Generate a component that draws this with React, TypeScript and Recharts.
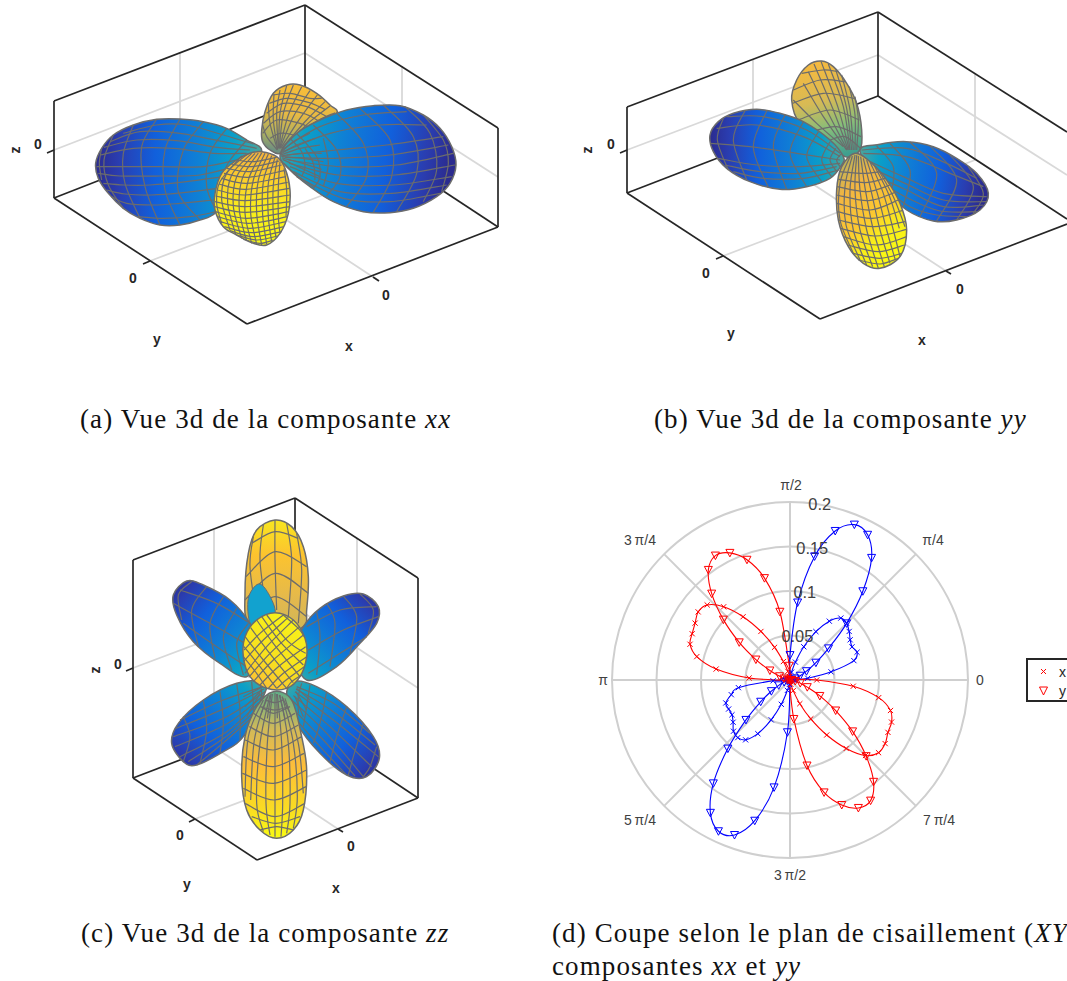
import React from 'react';
import {
  ComposedChart, Scatter, XAxis, YAxis, RadarChart, Radar, PolarGrid, PolarAngleAxis, PolarRadiusAxis, Legend,
} from 'recharts';

// ---------- text ----------
const captionA = 'Vue 3d de la composante ';
const captionD1 = '(d) Coupe selon le plan de cisaillement (';
const legendLabels = ['x', 'y'];
const BLACK = '#262626';
const GRIDC = '#d9d9d9';
const MESH = '#6c6c6c';

// ---------- panel (a): page coordinates ----------
const aBox = [
  [54, 101, 305, 5], [305, 5, 498, 128], [54, 101, 54, 198], [305, 5, 305, 100], [498, 128, 498, 227],
  [54, 198, 247, 324], [247, 324, 498, 227], [54, 198, 305, 100], [305, 100, 498, 227],
  [54, 150, 47, 153], [150, 261, 143, 264], [373, 277, 379, 281],
];
const aGrid = [
  [180, 53, 180, 150], [54, 150, 305, 53], [402, 66, 402, 165], [305, 53, 498, 177], [150, 261, 402, 165], [180, 150, 373, 277],
];
const aLabels = [
  { x: 38, y: 144, t: '0' }, { x: 15, y: 150, t: 'z', r: 1 }, { x: 133, y: 278, t: '0' }, { x: 157, y: 339, t: 'y' },
  { x: 386, y: 295, t: '0' }, { x: 349, y: 346, t: 'x' },
];
// lobes of (a), measured in units of a 3x crop at origin 80,70
const aBack = [548,215,545,180,555,125,580,70,620,45,660,45,710,70,750,105,770,130,700,170,640,215,600,250,570,240];
const aBackMesh = [
  [592,240,560,200,548,165],[592,238,570,160,565,100],[595,235,590,130,600,60],[598,235,610,130,640,45],[600,235,640,140,690,62],[605,235,680,150,735,95],[610,235,700,160,765,128],
  [593,238,580,150,582,72],[596,235,600,130,620,47],[599,235,625,135,665,50],[602,235,660,145,712,75],[607,235,690,155,750,108],
  [548,190,590,150,660,160,690,175],[560,130,610,100,680,110,740,140],[580,75,630,70,690,85,725,85],[570,205,600,190,640,195,650,205],
  [550,160,600,125,670,130,720,155],[568,100,620,85,685,97,735,118],
];
const aLeft = [545,245,500,210,440,175,370,155,300,147,230,148,160,165,100,195,65,235,47,280,55,325,85,370,130,415,180,445,240,465,300,465,360,450,410,425,480,330];
const aLeftMesh = [
  [100,195,72,270,85,345,130,415],[160,165,130,250,135,340,180,445],[230,148,185,230,195,350,240,465],[300,147,255,240,255,360,300,465],
  [370,155,310,240,295,365,360,450],[440,175,390,250,380,350,410,425],[500,210,450,270,430,310],[65,235,58,280,65,330],
  [530,235,430,215,300,190,180,185,90,215],[500,250,400,250,280,235,160,235,60,255],[470,270,370,290,250,290,130,290,50,290],
  [430,320,320,335,210,345,130,345,70,340],[400,390,300,400,220,405,140,400,95,380],[410,425,330,440,250,445,175,440],
  [520,222,430,195,320,165,230,165,130,190],[480,285,360,315,240,318,120,318,55,310],[415,355,310,368,215,375,135,372,80,360],[510,240,410,232,290,212,170,210,72,232],
];
const aRight = [600,255,650,190,720,150,800,120,880,107,960,107,1030,135,1080,175,1115,230,1128,285,1110,340,1070,380,1000,415,930,428,850,425,760,395,690,350,630,300];
const aRightMesh = [
  [650,190,710,260,720,320,700,355],[700,165,770,240,780,320,740,378],[770,130,850,220,860,320,800,410],[840,115,930,210,935,320,880,427],
  [910,105,1000,200,1010,310,950,425],[975,110,1050,190,1070,300,1030,395],[1030,135,1090,210,1105,280,1085,365],
  [610,245,750,190,900,165,1040,165],[620,255,770,240,920,225,1090,200],[625,270,780,290,950,285,1120,250],[630,290,770,340,940,345,1115,320],
  [650,320,790,385,930,395,1080,370],[605,240,720,170,850,135,980,125],[615,262,760,265,930,255,1105,225],[628,280,775,315,945,315,1125,285],[640,305,780,365,935,370,1100,345],
  [675,235,700,280,705,330],[730,205,745,280,730,350],[630,205,665,245,675,290,665,320],
  [600,250,640,215,690,190],[602,255,660,235,720,225],[605,260,670,265,730,275],[608,268,665,295,720,320],[612,280,650,315,700,350],[601,252,650,225,705,205],[603,258,665,250,725,250],[606,264,668,280,725,298],
];
const aFront = [545,245,590,260,615,295,630,360,625,430,600,490,560,525,520,520,470,495,430,470,405,420,405,370,425,310,470,270,510,250];
const aFrontMesh = [
  [505,250,440,310,425,390,450,480],[525,250,470,320,460,410,485,505],[545,248,505,330,495,430,515,520],[565,252,535,330,530,430,545,525],
  [585,262,565,340,565,440,575,515],[600,275,595,350,595,440,600,490],[612,295,620,360,618,440],[485,258,420,335,410,400,425,460],
  [515,250,455,315,443,400,467,493],[535,249,487,325,478,420,500,513],[555,250,520,330,512,430,530,523],[575,257,550,335,548,435,560,522],[592,268,580,345,580,440,588,503],
  [470,270,520,275,590,262],[440,295,510,305,605,285],[425,325,500,340,618,320],[412,360,495,375,628,355],[405,395,495,410,630,395],[405,425,500,445,627,425],
  [420,455,510,475,618,455],[450,482,520,500,605,485],[490,508,540,520,580,510],[454,282,515,290,598,273],[432,310,505,322,612,302],[417,342,497,358,623,337],[407,378,495,392,630,375],[404,410,497,427,629,410],[412,440,505,460,623,440],[433,470,515,488,612,470],[470,495,530,510,593,498],
];

// ---------- panel (b) ----------
const bBox = [
  [627, 107, 878, 12], [878, 12, 1067, 132], [627, 107, 627, 193], [878, 12, 878, 96],
  [627, 193, 820, 319], [820, 319, 1067, 224], [627, 193, 878, 96], [878, 96, 1067, 219],
  [627, 150, 620, 153], [723, 256, 716, 259], [946, 271, 951, 274],
];
const bGrid = [
  [753, 60, 753, 145], [627, 150, 878, 55], [975, 73, 975, 160], [878, 55, 1067, 175], [723, 256, 975, 160], [753, 145, 946, 271],
];
const bLabels = [
  { x: 611, y: 144, t: '0' }, { x: 587, y: 150, t: 'z', r: 1 }, { x: 706, y: 273, t: '0' }, { x: 731, y: 333, t: 'y' },
  { x: 960, y: 289, t: '0' }, { x: 922, y: 340, t: 'x' },
];
const bBack = [510,300,515,240,500,160,470,100,430,50,395,33,355,45,320,90,305,150,330,220,400,260,465,320];
const bBackMesh = [
  [470,300,400,200,340,100],[475,300,430,180,372,42],[480,300,460,170,415,42],[490,300,480,180,455,75],[500,300,505,210,495,140],[460,290,380,220,310,150],
  [472,300,415,190,355,65],[478,300,445,175,393,34],[485,300,470,175,437,58],[495,300,495,195,478,110],
  [310,120,390,90,465,95],[308,160,400,130,492,145],[325,210,420,180,508,210],[365,245,440,230,513,260],[420,270,465,260,512,295],[335,70,400,60,445,65],
];
const bLeft = [460,320,420,270,340,215,270,190,200,178,130,190,85,215,60,255,70,305,110,355,180,395,270,418,350,410,420,385,455,345];
const bLeftMesh = [
  [100,205,82,270,115,360],[165,182,130,270,170,390],[230,183,190,290,235,412],[285,195,250,290,290,418],[340,215,300,310,350,410],[385,245,350,320,395,395],[420,275,395,330,425,380],
  [450,320,340,260,200,225,80,235],[450,330,320,310,180,290,62,280],[450,340,330,350,200,345,85,325],[445,360,340,385,220,385,130,365],
  [450,310,350,240,220,200,110,200],[440,350,330,370,210,365,105,345],
  [437,295,420,330,440,365],[455,310,440,330,450,350],
];
const bRight = [510,305,570,283,650,275,730,290,800,325,860,370,895,430,870,480,800,510,730,513,650,480,590,420];
const bRightMesh = [
  [600,280,660,360,640,470],[660,276,740,370,690,500],[720,288,800,390,740,513],[780,315,850,410,800,510],[835,350,880,430,850,490],[560,288,610,350,605,425],
  [520,310,650,320,780,370,880,410],[530,330,640,380,760,430,890,440],[560,380,650,420,760,470,880,465],[590,420,660,470,740,495,830,500],
  [515,300,650,295,770,340,860,385],[545,355,645,400,760,450,890,455],[575,400,655,445,750,483,860,485],
];
const bFront = [495,310,540,335,590,390,630,460,650,540,630,620,570,655,520,640,475,590,445,510,440,420,455,350];
const bFrontMesh = [
  [480,320,450,400,450,510,490,610],[495,315,480,420,490,540,530,645],[505,318,510,420,530,540,565,655],[520,325,545,430,570,540,600,640],[540,335,580,430,610,540,630,620],[565,360,610,440,645,530],
  [487,318,465,410,468,525,510,630],[500,316,495,420,510,540,548,650],[512,320,527,425,550,540,583,650],[530,330,562,430,590,540,616,630],[552,345,597,435,628,535],
  [450,365,520,370,570,365],[442,410,530,425,600,405],[440,460,540,480,625,450],[445,510,550,530,645,515],[460,560,560,585,650,560],[490,610,570,625,635,610],
  [445,388,525,398,585,385],[440,435,535,452,613,428],[442,485,545,505,636,482],[452,535,555,558,650,538],[473,585,565,605,643,585],[505,630,570,642,625,625],
];

// ---------- panel (c) ----------
const cBox = [
  [133, 560, 295, 498], [295, 498, 418, 578], [133, 560, 133, 778], [295, 498, 295, 716], [418, 578, 418, 798],
  [133, 778, 257, 860], [257, 860, 418, 798], [133, 778, 295, 716], [295, 716, 418, 798],
  [133, 668, 126, 671], [195, 819, 189, 822], [338, 829, 343, 832],
];
const cGrid = [
  [214, 530, 214, 747], [133, 668, 295, 607], [357, 538, 357, 758], [295, 607, 418, 688], [195, 819, 357, 758], [214, 747, 338, 829],
];
const cLabels = [
  { x: 118, y: 664, t: '0' }, { x: 95, y: 670, t: 'z', r: 1 }, { x: 180, y: 835, t: '0' }, { x: 187, y: 884, t: 'y' },
  { x: 351, y: 846, t: '0' }, { x: 336, y: 888, t: 'x' },
];
const cTop = [345,30,395,50,430,110,445,200,440,300,430,350,345,380,265,340,255,250,265,130,290,60];
const cTopMesh = [
  [310,45,300,150,320,310],[345,30,345,150,350,300],[380,40,395,150,385,320],[410,70,425,180,415,340],[280,80,270,170,290,320],
  [275,100,345,65,415,85],[258,200,345,125,440,170],[255,270,345,190,445,250],[270,325,345,260,440,320],
];
const cPatch = [265,265,295,222,325,250,345,310,300,345,270,340];
const cTL = [270,340,210,270,130,225,80,213,40,255,50,315,100,395,180,460,260,500,300,420];
const cTLMesh = [
  [95,215,55,255,65,330],[140,230,95,300,115,410],[190,260,150,340,165,445],[230,295,190,380,215,480],[265,340,230,400,250,495],
  [270,340,170,280,60,240],[255,400,150,340,40,280],[260,470,170,410,70,340],
];
const cTR = [430,350,480,295,550,258,610,252,655,290,650,340,600,400,530,470,440,510,400,420];
const cTRMesh = [
  [600,252,640,300,625,370],[550,258,590,320,570,430],[500,280,525,340,510,470],[470,305,480,380,470,495],
  [440,350,540,300,650,290],[445,420,550,360,655,320],[445,490,540,430,620,380],
];
const cBL = [315,515,230,520,130,570,55,640,35,700,70,755,110,765,190,725,250,680,310,560];
const cBLMesh = [
  [70,620,90,680,70,755],[130,570,140,660,120,760],[180,545,190,640,180,730],[230,520,240,600,240,690],[275,515,280,580,280,630],[300,518,305,550,300,575],
  [310,530,190,570,60,630],[315,545,200,620,40,680],[310,565,200,665,60,740],[290,610,200,690,110,765],[312,537,195,595,48,655],[312,555,200,642,45,710],[300,590,200,678,85,755],
  [300,535,250,560],[305,540,255,590],[300,550,260,620],
];
const cBR = [400,515,470,530,560,590,640,680,658,745,620,800,560,795,480,730,410,640,380,560];
const cBRMesh = [
  [450,525,440,590,430,650],[500,545,480,640,460,700],[560,590,530,680,510,755],[610,640,580,740,565,795],[650,710,630,770,610,800],[425,520,415,560,415,610],
  [410,530,520,580,630,670],[405,545,520,630,655,740],[395,570,500,670,610,800],[400,620,480,710,560,795],[408,537,520,605,645,705],[400,557,510,650,635,770],[397,595,490,690,585,798],
  [410,535,450,570],[408,545,440,600],[405,560,430,620],
];
const cBottom = [340,545,395,570,425,680,440,780,430,900,400,960,350,985,300,960,260,900,245,800,255,680,290,590];
const cBottomMesh = [
  [330,555,300,700,290,880,310,965],[345,550,345,700,345,980],[360,555,385,700,390,880,380,970],[375,565,415,700,430,850],[310,570,265,680,255,860],
  [337,552,322,700,318,880,330,975],[352,552,365,700,368,880,363,980],[367,560,400,700,412,860,400,955],[320,562,283,690,272,870],
  [280,610,340,640,405,610],[255,690,340,720,425,680],[247,790,340,820,440,780],[255,880,345,920,435,880],[300,960,350,950,400,960],[268,650,340,680,415,645],[250,740,340,770,432,730],[250,835,343,870,438,830],[275,920,347,940,420,920],
  [305,590,340,610,390,590],[300,590,345,600,385,590],[315,570,345,578,370,570],[325,555,300,620],[333,552,322,625],[350,552,352,625],[358,555,375,625],[366,560,395,620],
];
const cBall = [345,308,400,330,435,385,440,440,420,500,380,535,320,535,270,500,250,440,255,380,290,330];
const cBallMesh = [
  [290,330,340,400,420,500],[320,315,385,395,437,430],[255,380,310,450,380,535],[250,440,290,490,320,535],[370,315,415,355,433,380],[272,353,325,425,400,518],[305,320,362,397,430,465],[252,410,300,470,350,535],
  [400,330,320,410,255,490],[370,315,300,370,252,420],[430,375,340,450,280,515],[440,440,370,490,325,535],[425,495,395,515,380,535],[416,352,330,430,266,502],[385,322,310,390,250,455],[437,410,355,470,300,525],[433,470,385,505,350,535],
];

// ---------- panel (d): r(theta), theta = k * 360/128 ----------
const angleCount = 128;
const yyBlueQ1 = { k0: 0, values: [0, 0, 0.002, 0.006, 0.0125, 0.021, 0.035, 0.056, 0.09, 0.129, 0.165, 0.185, 0.189, 0.175, 0.1416, 0.0875, 0.028] };
const yyBlueQ3 = { k0: 65, values: [0, 0.001, 0.003, 0.007, 0.014, 0.0244, 0.041, 0.0668, 0.104, 0.1446, 0.174, 0.188, 0.185, 0.163, 0.122, 0.0588] };
const yyRedQ2 = { k0: 33, values: [0.016, 0.0775, 0.118, 0.1435, 0.158, 0.163, 0.154, 0.131, 0.101, 0.071, 0.0447, 0.025, 0.0125, 0.007, 0.003, 0.001] };
const yyRedQ4 = { k0: 98, values: [0.044, 0.098, 0.132, 0.152, 0.163, 0.163, 0.148, 0.121, 0.091, 0.0617, 0.038, 0.021, 0.012, 0.006, 0.002] };
const xxBlueQ1 = { k0: 0, values: [0.006, 0.02, 0.047, 0.075, 0.0815, 0.079, 0.0813, 0.086, 0.09, 0.09, 0.0795, 0.0617, 0.0404, 0.021, 0.009, 0.003, 0] };
const xxBlueQ3 = { k0: 65, values: [0.019, 0.0586, 0.068, 0.0766, 0.0763, 0.076, 0.0796, 0.0857, 0.0874, 0.0837, 0.0703, 0.0495, 0.029, 0.012, 0.005, 0.001] };
const xxRedQ2 = { k0: 33, values: [0.001, 0.004, 0.01, 0.022, 0.0406, 0.0636, 0.0885, 0.111, 0.1256, 0.1285, 0.1243, 0.1216, 0.1193, 0.108, 0.0839, 0.046] };
const xxRedQ4 = { k0: 98, values: [0.001, 0.005, 0.0125, 0.0288, 0.0495, 0.0743, 0.0995, 0.12, 0.1287, 0.1286, 0.1248, 0.1235, 0.118, 0.1016, 0.0714] };
const xxRedStart = { k0: 0, values: [0.03, 0.008, 0.002] };
const radiusTicks = [0, 0.05, 0.1, 0.15, 0.2];
const polarAngles = [0, 45, 90, 135, 180, 225, 270, 315];
const angleLabels: Record<number, string> = {
  0: '0', 16: '\u03c0/4', 32: '\u03c0/2', 48: '3\u2009\u03c0/4', 64: '\u03c0', 80: '5\u2009\u03c0/4', 96: '3\u2009\u03c0/2', 112: '7\u2009\u03c0/4',
};
const angleShift: Record<number, number[]> = {
  0: [4, 0], 16: [11.5, -8.5], 32: [1, -9], 48: [-18.5, -8.5], 64: [-1, 0], 80: [-18.5, 8.5], 96: [0, 9], 112: [17.5, 8.5],
};

// A counter-clockwise radar draws a row one step ahead of its category, and its tick one step behind.
const polarRows = Array.from({ length: angleCount }, (_, r) => {
  const k = (r + 1) % angleCount;
  const row: Record<string, number | null> = { r };
  const put = (name: string, lobes: { k0: number; values: number[] }[]) => {
    row[name] = null;
    lobes.forEach((l) => {
      const j = (k - l.k0) / 2;
      if (Number.isInteger(j) && j >= 0 && j < l.values.length) row[name] = l.values[j];
    });
  };
  put('yyBlue', [yyBlueQ1, yyBlueQ3]);
  put('xxBlue', [xxBlueQ1, xxBlueQ3]);
  put('yyRed', [yyRedQ2, yyRedQ4]);
  put('xxRed', [xxRedStart, xxRedQ2, xxRedQ4]);
  row.pile = k % 2 === 0 ? 0 : null;
  return row;
});

// ---------- drawing helpers ----------
const pairs = (f: number[]) => {
  const out: { x: number; y: number }[] = [];
  for (let i = 0; i < f.length; i += 2) out.push({ x: f[i], y: f[i + 1] });
  return out;
};
type P = { x: number; y: number };
const spline = (p: P[], closed: boolean) => {
  const n = p.length;
  const at = (i: number) => (closed ? p[(i + n) % n] : p[Math.max(0, Math.min(n - 1, i))]);
  let d = `M${p[0].x},${p[0].y}`;
  const end = closed ? n : n - 1;
  for (let i = 0; i < end; i++) {
    const a = at(i - 1), b = at(i), c = at(i + 1), e = at(i + 2);
    d += `C${b.x + (c.x - a.x) / 6},${b.y + (c.y - a.y) / 6} ${c.x - (e.x - b.x) / 6},${c.y - (e.y - b.y) / 6} ${c.x},${c.y}`;
  }
  return closed ? d + 'Z' : d;
};
const noMark = () => <g />;
const curve = (key: string, f: number[], o: { fill?: string; stroke: string; w: number; closed?: boolean; straight?: boolean; axis: string }) => (
  <Scatter
    key={key}
    data={pairs(f)}
    xAxisId={o.axis}
    yAxisId={o.axis}
    isAnimationActive={false}
    shape={noMark}
    legendType="none"
    line={(lp: any) => {
      const pts = lp.points as P[];
      const d = o.straight ? `M${pts[0].x},${pts[0].y}L${pts[1].x},${pts[1].y}` : spline(pts, !!o.closed);
      return <path d={d} fill={o.fill ?? 'none'} stroke={o.stroke} strokeWidth={o.w} strokeLinejoin="round" />;
    }}
  />
);
const lobe = (key: string, outline: number[], mesh: number[][], grad: string) => [
  curve(key + 'o', outline, { fill: `url(#${grad})`, stroke: MESH, w: 1.5, closed: true, axis: 'z' }),
  ...mesh.map((m, i) => curve(key + 'm' + i, m, { stroke: MESH, w: 1.2, axis: 'z' })),
];
const labelShape = (p: any) => {
  const t = p.payload.t;
  const r = p.payload.r;
  return (
    <text x={p.cx} y={p.cy} textAnchor="middle" dominantBaseline="central" fontFamily="Liberation Sans" fontWeight="bold" fontSize={14} fill={BLACK}
      transform={r ? `rotate(-90 ${p.cx} ${p.cy})` : undefined}>{t}</text>
  );
};

const BLUE_STOPS = [[0, '#2b2b8f'], [0.14, '#2a3db0'], [0.36, '#1160dc'], [0.62, '#0f80d5'], [0.84, '#0aa0c8'], [1, '#4fa59a']];
const gradients: { id: string; v: number[]; stops: (number | string)[][] }[] = [
  { id: 'gL', v: [0, 0, 1, 0], stops: BLUE_STOPS },
  { id: 'gR', v: [1, 0.2, 0, 0.1], stops: BLUE_STOPS },
  { id: 'gTL', v: [0, 0, 1, 1], stops: BLUE_STOPS },
  { id: 'gTR', v: [1, 0, 0, 1], stops: BLUE_STOPS },
  { id: 'gBL', v: [0, 1, 1, 0], stops: BLUE_STOPS },
  { id: 'gBR', v: [1, 1, 0, 0], stops: BLUE_STOPS },
  { id: 'gBack', v: [0.6, 0, 0.4, 1], stops: [[0, '#f9bd38'], [0.45, '#e6b944'], [0.8, '#a8ad62'], [1, '#6c8f82']] },
  { id: 'gBackB', v: [0.4, 0, 0.6, 1], stops: [[0, '#f6b93e'], [0.4, '#d7ba55'], [0.7, '#86bd7a'], [1, '#3f9f8f']] },
  { id: 'gFront', v: [0.5, 0, 0.5, 1], stops: [[0, '#f5b23f'], [0.3, '#fbcf2c'], [0.6, '#f8ec1c'], [1, '#f9fb12']] },
  { id: 'gFrontB', v: [0.2, 0, 0.7, 1], stops: [[0, '#b6b05c'], [0.25, '#f2b542'], [0.55, '#fcc830'], [0.75, '#f8ee1a'], [1, '#f9fb12']] },
  { id: 'gTop', v: [0.5, 0, 0.5, 1], stops: [[0, '#f8e620'], [0.3, '#fcc32f'], [0.7, '#e2b84e'], [1, '#c9b65a']] },
  { id: 'gBottom', v: [0.5, 1, 0.5, 0], stops: [[0, '#f9fb12'], [0.2, '#f9dc22'], [0.5, '#fdbd3a'], [0.75, '#cfb95a'], [1, '#5fae88']] },
  { id: 'gBall', v: [0.8, 0, 0.3, 1], stops: [[0, '#f8f418'], [0.6, '#f8e21e'], [1, '#fcc034']] },
];
const Defs = () => (
  <defs>
    {gradients.map((g) => (
      <linearGradient key={g.id} id={g.id} x1={g.v[0]} y1={g.v[1]} x2={g.v[2]} y2={g.v[3]}>
        {g.stops.map((s, i) => <stop key={i} offset={s[0] as number} stopColor={s[1] as string} />)}
      </linearGradient>
    ))}
  </defs>
);

type Rect = { left: number; top: number; w: number; h: number; ox: number; oy: number };
const Panel3D = ({ rect, box, grid, labels, children }: { rect: Rect; box: number[][]; grid: number[][]; labels: any[]; children: any }) => {
  const { left, top, w, h, ox, oy } = rect;
  return (
    <div style={{ position: 'absolute', left, top, width: w, height: h }}>
      <ComposedChart width={w} height={h} margin={{ top: 0, right: 0, bottom: 0, left: 0 }}>
        <Defs />
        <XAxis xAxisId="p" type="number" dataKey="x" domain={[left, left + w]} hide allowDataOverflow />
        <YAxis yAxisId="p" type="number" dataKey="y" domain={[top, top + h]} reversed hide allowDataOverflow />
        <XAxis xAxisId="z" type="number" dataKey="x" domain={[(left - ox) * 3, (left + w - ox) * 3]} hide allowDataOverflow />
        <YAxis yAxisId="z" type="number" dataKey="y" domain={[(top - oy) * 3, (top + h - oy) * 3]} reversed hide allowDataOverflow />
        {grid.map((g, i) => curve('g' + i, g, { stroke: GRIDC, w: 1.8, straight: true, axis: 'p' }))}
        {box.map((g, i) => curve('b' + i, g, { stroke: BLACK, w: 1.7, straight: true, axis: 'p' }))}
        {children}
        <Scatter data={labels} xAxisId="p" yAxisId="p" isAnimationActive={false} shape={labelShape} legendType="none" />
      </ComposedChart>
    </div>
  );
};

const Caption = ({ x, y, children }: { x: number; y: number; children: any }) => (
  <div style={{ position: 'absolute', left: x, top: y, fontFamily: 'Liberation Serif', fontSize: 27, lineHeight: '28px', whiteSpace: 'nowrap', color: '#111', letterSpacing: 1.1 }}>{children}</div>
);

const radarLine = (stroke: string) => (p: any) => {
  const pts = (p.points as any[]).filter((q) => q.value !== null && q.value !== undefined);
  return <path d={spline(pts, true)} fill="none" stroke={stroke} strokeWidth={1.1} />;
};
const crossDot = (color: string) => (p: any) => {
  if (p.value === null || p.value === undefined) return <g key={p.key} />;
  const s = 2.6;
  return <path key={p.key} d={`M${p.cx - s},${p.cy - s}L${p.cx + s},${p.cy + s}M${p.cx - s},${p.cy + s}L${p.cx + s},${p.cy - s}`} stroke={color} strokeWidth={1} fill="none" />;
};
const triDot = (color: string) => (p: any) => {
  if (p.value === null || p.value === undefined) return <g key={p.key} />;
  return <path key={p.key} d={`M${p.cx - 4},${p.cy - 3.5}L${p.cx + 4},${p.cy - 3.5}L${p.cx},${p.cy + 4}Z`} stroke={color} strokeWidth={1} fill="none" />;
};
const angleTick = (p: any) => {
  const k = (p.payload.value + angleCount - 1) % angleCount;
  const lab = angleLabels[k];
  if (!lab) return <g />;
  const s = angleShift[k];
  return <text x={p.x + s[0]} y={p.y + s[1]} textAnchor="middle" dominantBaseline="central" fontFamily="Liberation Sans" fontSize={14} fill="#404040">{lab}</text>;
};
const radiusTick = (p: any) => {
  const v = p.payload.value;
  if (!v) return <g />;
  return <text x={p.x} y={p.y} textAnchor="middle" dominantBaseline="central" fontFamily="Liberation Sans" fontSize={16.4} fill="#404040">{v}</text>;
};
const LegendBox = () => (
  <div style={{ width: 70, height: 40, border: '2px solid #262626', background: '#fff', fontFamily: 'Liberation Sans', fontSize: 14, color: '#262626', boxSizing: 'content-box' }}>
    <svg width="70" height="40" style={{ display: 'block' }}>
      <path d="M13,9L18,14M13,14L18,9" stroke="#f00" fill="none" />
      <text x="31" y="17" fill="#262626" fontSize="14">{legendLabels[0]}</text>
      <path d="M11.5,27L19.5,27L15.5,35Z" stroke="#f00" fill="none" />
      <text x="31" y="36" fill="#262626" fontSize="14">{legendLabels[1]}</text>
    </svg>
  </div>
);

export default function App() {
  return (
    <div style={{ position: 'absolute', left: 0, top: 0, width: 1067, height: 981, overflow: 'hidden', background: '#fff' }}>
      <Panel3D rect={{ left: 0, top: 0, w: 530, h: 370, ox: 80, oy: 70 }} box={aBox} grid={aGrid} labels={aLabels}>
        {lobe('ab', aBack, aBackMesh, 'gBack')}
        {lobe('al', aLeft, aLeftMesh, 'gL')}
        {lobe('ar', aRight, aRightMesh, 'gR')}
        {lobe('af', aFront, aFrontMesh, 'gFront')}
      </Panel3D>
      <Panel3D rect={{ left: 530, top: 0, w: 537, h: 370, ox: 690, oy: 50 }} box={bBox} grid={bGrid} labels={bLabels}>
        {lobe('bb', bBack, bBackMesh, 'gBackB')}
        {lobe('bl', bLeft, bLeftMesh, 'gL')}
        {lobe('br', bRight, bRightMesh, 'gR')}
        {lobe('bf', bFront, bFrontMesh, 'gFrontB')}
      </Panel3D>
      <Panel3D rect={{ left: 0, top: 470, w: 530, h: 430, ox: 160, oy: 510 }} box={cBox} grid={cGrid} labels={cLabels}>
        {lobe('ct', cTop, cTopMesh, 'gTop')}
        {curve('cp', cPatch, { fill: '#12a2cf', stroke: MESH, w: 1, closed: true, axis: 'z' })}
        {lobe('ctl', cTL, cTLMesh, 'gTL')}
        {lobe('ctr', cTR, cTRMesh, 'gTR')}
        {lobe('cbl', cBL, cBLMesh, 'gBL')}
        {lobe('cbr', cBR, cBRMesh, 'gBR')}
        {lobe('cb', cBottom, cBottomMesh, 'gBottom')}
        {lobe('cc', cBall, cBallMesh, 'gBall')}
      </Panel3D>

      <div style={{ position: 'absolute', left: 560, top: 470, width: 520, height: 420 }}>
        <RadarChart width={520} height={420} cx={230} cy={210} outerRadius={178} innerRadius={0} startAngle={0} endAngle={360}
          data={polarRows} margin={{ top: 0, right: 0, bottom: 0, left: 0 }}>
          <PolarGrid gridType="circle" polarAngles={polarAngles} polarRadius={[44.5, 89, 133.5, 178]} stroke="#cfcfcf" strokeWidth={2} />
          <PolarAngleAxis dataKey="r" tick={angleTick} tickLine={false} axisLine={false} />
          <PolarRadiusAxis angle={80.4} domain={[0, 0.2]} ticks={radiusTicks as any} tickCount={5} axisLine={false} tickLine={false} tick={radiusTick} />
          <Radar dataKey="yyBlue" isAnimationActive={false} stroke="#00f" fill="none" shape={radarLine('#00f')} dot={triDot('#00f')} />
          <Radar dataKey="xxBlue" isAnimationActive={false} stroke="#00f" fill="none" shape={radarLine('#00f')} dot={crossDot('#00f')} />
          <Radar dataKey="yyRed" isAnimationActive={false} stroke="#f00" fill="none" shape={radarLine('#f00')} dot={triDot('#f00')} />
          <Radar dataKey="xxRed" isAnimationActive={false} stroke="#f00" fill="none" shape={radarLine('#f00')} dot={crossDot('#f00')} />
          <Radar dataKey="pile" isAnimationActive={false} stroke="#f00" fill="none" shape={() => <g />} dot={triDot('#f00')} />
          <Legend content={<LegendBox />} wrapperStyle={{ position: 'absolute', left: 466, top: 188, width: 80, bottom: 'auto' }} />
        </RadarChart>
      </div>

      <Caption x={80} y={405}>(a) {captionA}<i>xx</i></Caption>
      <Caption x={654} y={405}>(b) {captionA}<i>yy</i></Caption>
      <Caption x={81} y={919}>(c) {captionA}<i>zz</i></Caption>
      <Caption x={552} y={919}>{captionD1}<i>XY</i>)</Caption>
      <Caption x={552} y={952}>composantes <i>xx</i> et <i>yy</i></Caption>
    </div>
  );
}
